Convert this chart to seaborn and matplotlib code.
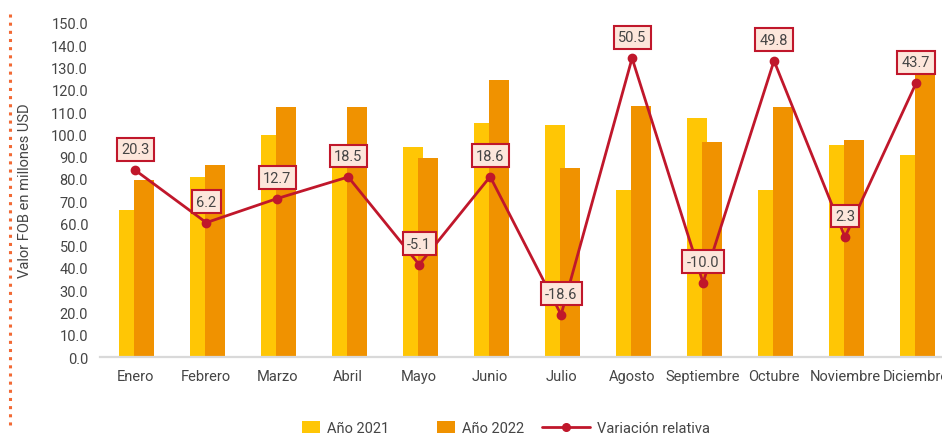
import pandas as pd
import matplotlib.pyplot as plt
import matplotlib.patches as mpatches
from matplotlib.lines import Line2D
from matplotlib.legend_handler import HandlerPatch
import seaborn as sns

# Datos
meses = ["Enero", "Febrero", "Marzo", "Abril", "Mayo", "Junio", "Julio",
         "Agosto", "Septiembre", "Octubre", "Noviembre", "Diciembre"]
valor_2021 = [66.0, 81.0, 99.5, 94.7, 94.3, 105.0, 104.2, 75.0, 107.3, 75.0, 95.2, 90.7]
valor_2022 = [79.4, 86.0, 112.1, 112.3, 89.5, 124.5, 84.8, 112.9, 96.6, 112.4, 97.4, 130.3]
variacion = [20.3, 6.2, 12.7, 18.5, -5.1, 18.6, -18.6, 50.5, -10.0, 49.8, 2.3, 43.7]

AMARILLO = "#ffc605"
NARANJA = "#f09200"
ROJO = "#c0172b"
TEXTO = "#454545"

sns.set_theme(style="white")
plt.rcParams['font.family'] = ['Roboto', 'DejaVu Sans']
plt.rcParams['text.color'] = TEXTO
plt.rcParams['axes.labelcolor'] = TEXTO
plt.rcParams['xtick.color'] = TEXTO
plt.rcParams['ytick.color'] = TEXTO

df = pd.DataFrame({
    "Mes": meses * 2,
    "Valor": valor_2021 + valor_2022,
    "Año": ["Año 2021"] * 12 + ["Año 2022"] * 12,
})

fig = plt.figure(figsize=(9.42, 4.35), dpi=100)
ax = fig.add_axes([0.106, 0.177, 0.904, 0.768])

sns.barplot(data=df, x="Mes", y="Valor", hue="Año", palette=[AMARILLO, NARANJA],
            width=0.5, dodge=True, ax=ax, legend=False, saturation=1)

# barras superpuestas: la naranja tapa parte de la amarilla
ancho = 0.277
n = len(meses)
for k, p in enumerate(ax.patches[:2 * n]):
    i = k % n
    p.set_width(ancho)
    p.set_x(i - 0.225 if k < n else i - 0.014)
    p.set_edgecolor("none")

ax.set_ylim(0, 150)
ax.set_xlim(-0.5, 11.5)
ax.set_yticks(range(0, 151, 10))
ax.set_yticklabels([f"{v:.1f}" for v in range(0, 151, 10)])
ax.tick_params(axis="both", length=0, labelsize=10.5)
ax.tick_params(axis="y", pad=8.5)
ax.tick_params(axis="x", pad=8.5)
ax.set_xlabel("")
ax.set_ylabel("Valor FOB en millones USD", fontsize=10.5)
ax.yaxis.set_label_coords(-0.08, 0.5)
for s in ["top", "right", "left"]:
    ax.spines[s].set_visible(False)
ax.spines["bottom"].set_color("#d9d9d9")
ax.spines["bottom"].set_linewidth(1.6)

# Variación relativa en eje secundario oculto
ax2 = ax.twinx()
sns.pointplot(x=meses, y=variacion, ax=ax2, color=ROJO, markers="o",
              markersize=5.5, linewidth=2, errorbar=None)
ax2.set_ylim(-30, 60)
ax2.set_xlim(-0.5, 11.5)
ax2.axis("off")

for i, v in enumerate(variacion):
    ax2.annotate(f"{v:.1f}", (i, v), xytext=(0, 21), textcoords="offset pixels",
                 ha="center", va="center", fontsize=10.5, color=TEXTO, clip_on=False,
                 bbox=dict(boxstyle="square,pad=0.3", fc="#fde6db", ec=ROJO, lw=1.5))


# leyenda
class HandlerSmallRect(HandlerPatch):
    def create_artists(self, legend, orig_handle, xdescent, ydescent, width, height, fontsize, trans):
        w, h = 13, 8.6
        r = mpatches.Rectangle((-xdescent + width - w, -ydescent + (height - h) / 2), w, h,
                               fc=orig_handle.get_facecolor(), ec="none", transform=trans)
        return [r]


handles = [
    mpatches.Patch(color=AMARILLO, label="Año 2021"),
    mpatches.Patch(color=NARANJA, label="Año 2022"),
    Line2D([], [], color=ROJO, lw=2, marker="o", markersize=5.5, label="Variación relativa"),
]
fig.legend(handles=handles, loc="center", bbox_to_anchor=(0.521, 0.014), ncol=3,
           frameon=False, fontsize=10.5, handlelength=3.3, handletextpad=0.5,
           columnspacing=1.2, handler_map={mpatches.Patch: HandlerSmallRect()})

# línea punteada decorativa a la izquierda
fig.add_artist(Line2D([0.0101, 0.0101], [0.9655, 0.0115], transform=fig.transFigure,
                      color="#f26a35", lw=2.2, linestyle=(0, (1, 1.67))))

fig.savefig("out.png", dpi=100)
